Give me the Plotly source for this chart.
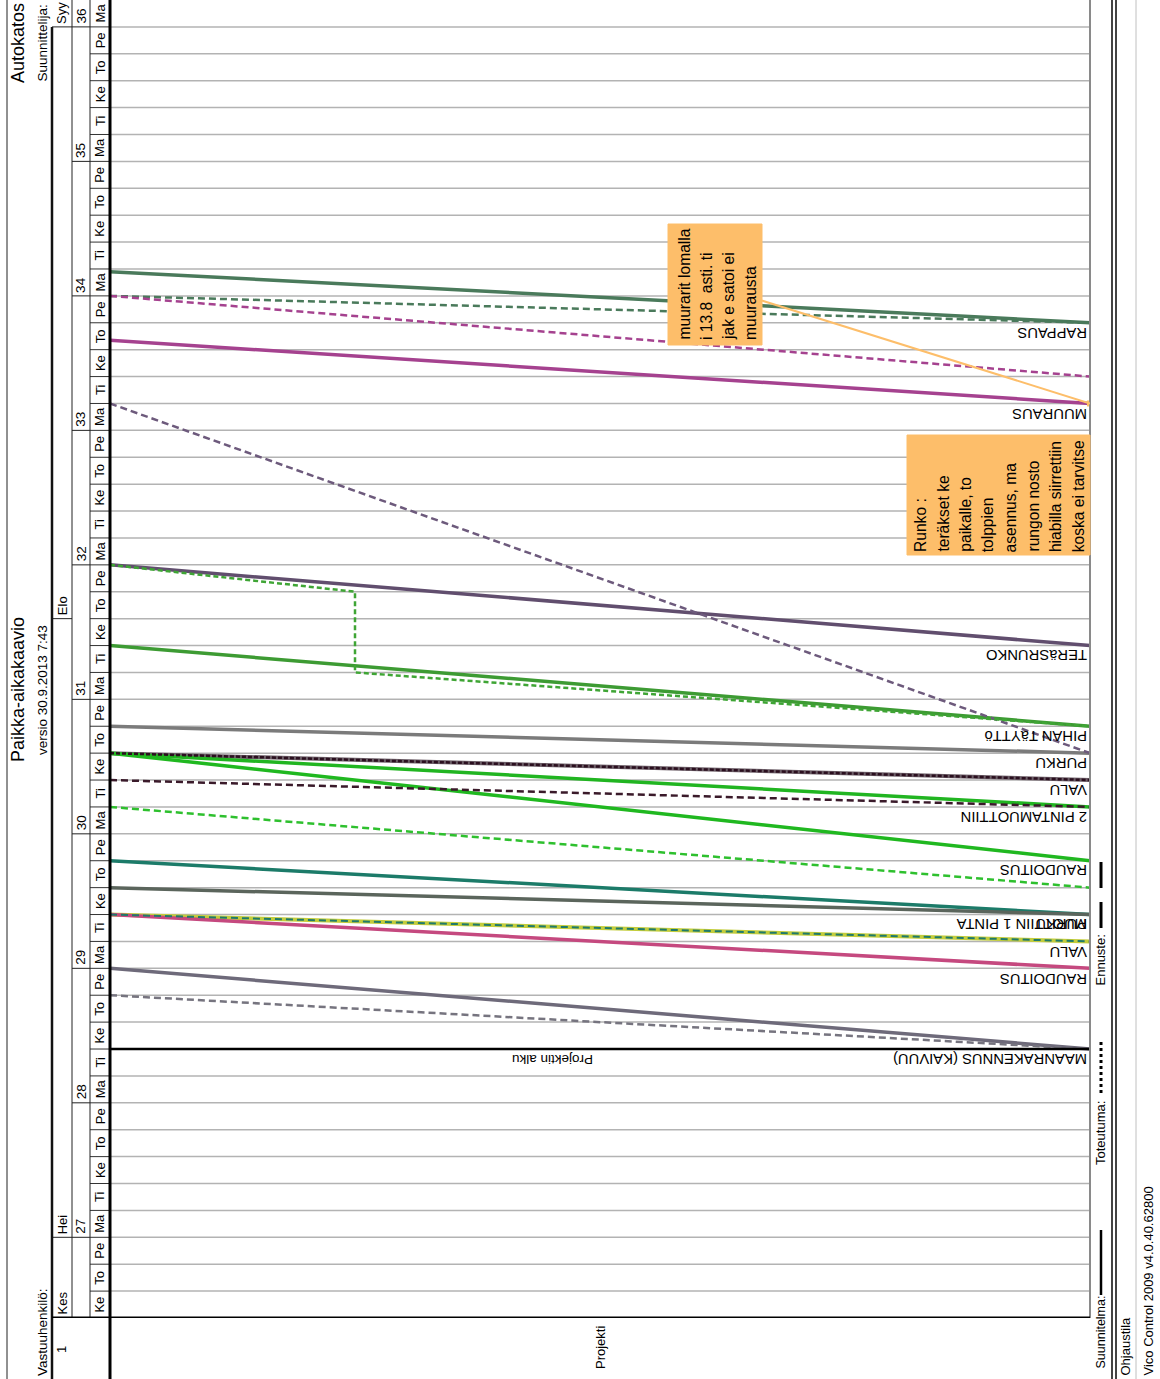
import plotly.graph_objects as go

W, H = 1160, 1379
FONT = "Liberation Sans, Arial, sans-serif"

# ---------------- data ----------------
day_labels = [
    "Ke", "To", "Pe",
    "Ma", "Ti", "Ke", "To", "Pe",   # 27
    "Ma", "Ti", "Ke", "To", "Pe",   # 28
    "Ma", "Ti", "Ke", "To", "Pe",   # 29
    "Ma", "Ti", "Ke", "To", "Pe",   # 30
    "Ma", "Ti", "Ke", "To", "Pe",   # 31
    "Ma", "Ti", "Ke", "To", "Pe",   # 32
    "Ma", "Ti", "Ke", "To", "Pe",   # 33
    "Ma", "Ti", "Ke", "To", "Pe",   # 34
    "Ma", "Ti", "Ke", "To", "Pe",   # 35
    "Ma",                           # 36
]
week_labels = ["27", "28", "29", "30", "31", "32", "33", "34", "35", "36"]
week_start = [3, 8, 13, 18, 23, 28, 33, 38, 43, 48]
month_labels = ["Kes", "Hei", "Elo", "Syy"]
month_start = [0, 3, 26, 48]

# planned lines (Suunnitelma): working-day value at location start (left) and end (right)
plan_tasks = ["RAPPAUS", "MUURAUS", "TERäSRUNKO", "PIHAN TäYTTö", "PURKU", "VALU",
              "2 PINTAMUOTTIIN", "RAUDOITUS", "MUOTTIIN 1 PINTA", "PURKU", "VALU",
              "RAUDOITUS", "MAANRAKENNUS (KAIVUU)"]
plan_left = [38.9, 36.35, 28, 25, 22, 21, 21, 21, 17, 16, 15, 15, 13]
plan_right = [37, 34, 25, 22, 21, 20, 19, 17, 15, 15, 14, 13, 10]
plan_colors = ["#4a7a5b", "#a5428f", "#614e6e", "#3d9b33", "#7b7b7b", "#6b5d66",
               "#21b521", "#20b820", "#1c7b69", "#5b655c", "#c3cd3c", "#c5497f", "#6e6a7a"]

# actual lines (Toteutuma)
actual_x = [[0, 1], [0, 1], [0, 1], [0, 0.25, 0.25, 1], [0, 1], [0, 1], [0, 1], [0, 1], [0, 1]]
actual_days = [[38, 37], [38, 35], [34, 21], [28, 27, 24, 22], [21, 20], [20, 19],
               [19, 16], [15, 14], [12, 10]]
actual_colors = ["#4a7a5b", "#a5428f", "#6d5a7c", "#3fa535", "#2b0f1f", "#3a1a2a",
                 "#2ec02e", "#1f7a6b", "#76747f"]
actual_dash = ["7px,4px", "7px,4px", "7px,4px", "5px,3px", "4px,2px", "7px,4px",
               "7px,4px", "7px,4px", "7px,4px"]

project_start_day = 10
note1_lines = ["muurarit lomalla", "i 13.8  asti. ti", "jak e satoi ei", "muurausta"]
note2_lines = ["Runko :", "teräkset ke", "paikalle, to", "tolppien", "asennus, ma",
               "rungon nosto", "hiabilla siirrettiin", "koska ei tarvitse"]

# ---------------- helpers ----------------
def xp(px):
    return px / W


def yp(py):
    return 1 - py / H


n_rows = len(day_labels)
fig = go.Figure()

for i in range(len(plan_tasks)):
    fig.add_trace(go.Scatter(x=[0, 1], y=[plan_left[i], plan_right[i]], mode="lines",
                             line=dict(color=plan_colors[i], width=4 if i in (5, 10) else 3.5),
                             hoverinfo="skip", showlegend=False))
for i in range(len(actual_x)):
    fig.add_trace(go.Scatter(x=actual_x[i], y=actual_days[i], mode="lines",
                             line=dict(color=actual_colors[i], width=2.5 if i != 7 else 2,
                                       dash=actual_dash[i]),
                             hoverinfo="skip", showlegend=False))
# project start line
fig.add_trace(go.Scatter(x=[0, 1], y=[project_start_day, project_start_day], mode="lines",
                         line=dict(color="black", width=2.5), hoverinfo="skip", showlegend=False))

shapes = []
anns = []

# grid lines
for k in range(1, n_rows):
    shapes.append(dict(type="line", xref="paper", yref="y", x0=xp(110), x1=xp(1090), y0=k, y1=k,
                       line=dict(color="#b3b3b3", width=1.5), layer="below"))
    shapes.append(dict(type="line", xref="paper", yref="y", x0=xp(90), x1=xp(110), y0=k, y1=k,
                       line=dict(color="#333333", width=1)))
for k in week_start:
    shapes.append(dict(type="line", xref="paper", yref="y", x0=xp(72), x1=xp(90), y0=k, y1=k,
                       line=dict(color="#222222", width=1)))
for k in month_start[1:]:
    shapes.append(dict(type="line", xref="paper", yref="y", x0=xp(52), x1=xp(72), y0=k, y1=k,
                       line=dict(color="#222222", width=1)))


def vline(x, y0, y1, color="black", width=1, dash=None):
    ln = dict(color=color, width=width)
    if dash:
        ln["dash"] = dash
    shapes.append(dict(type="line", xref="paper", yref="paper", x0=xp(x), x1=xp(x),
                       y0=yp(y0), y1=yp(y1), line=ln))


vline(7, 0, H, "#222", 1)
shapes.append(dict(type="line", xref="paper", yref="y", x0=xp(52), x1=xp(52), y0=month_start[-1],
                   y1=0, line=dict(color="#111", width=2.5)))
vline(52, 1318, H, "#111", 2.5)
vline(72, 0, 1318, "#222", 1)
vline(90, 0, 1318, "#222", 1)
vline(110, 0, H, "#000", 3)
vline(1090, 0, 1318, "#8a8a8a", 2)
vline(1112, 0, H, "#444", 2)
vline(1116, 0, H, "#444", 2)
vline(1136, 0, H, "#c0c0c0", 1)
shapes.append(dict(type="line", xref="paper", yref="y", x0=xp(52), x1=xp(1090), y0=0, y1=0,
                   line=dict(color="#000", width=3)))

# legend lines
vline(1101, 1295, 1230, "#000", 2.5)
vline(1101, 1093, 1040, "#000", 3, "dot")
vline(1101, 928, 862, "#000", 3, "26px,14px")

# note boxes
shapes.append(dict(type="rect", xref="paper", yref="paper", x0=xp(668), x1=xp(762), y0=yp(345),
                   y1=yp(224), fillcolor="#fdbe6a", line=dict(color="#fdbe6a", width=1)))
shapes.append(dict(type="rect", xref="paper", yref="paper", x0=xp(907), x1=xp(1090), y0=yp(555),
                   y1=yp(435), fillcolor="#fdbe6a", line=dict(color="#fdbe6a", width=1)))
# connector from note 1 to end of MUURAUS
shapes.append(dict(type="line", xref="x", yref="y", x0=(760 - 110) / 980, y0=(1318 - 300) / (1318 / n_rows),
                   x1=1, y1=plan_right[1], line=dict(color="#fdbe6a", width=2)))
fig.add_trace(go.Scatter(x=[1], y=[plan_right[1]], mode="markers",
                         marker=dict(symbol="square", size=6, color="#fdbe6a"),
                         hoverinfo="skip", showlegend=False))


def txt(text, x, y, size=13, angle=-90, xanchor="center", yanchor="middle", xref="paper",
        yref="paper", color="black", xshift=0, yshift=0):
    anns.append(dict(text=text, x=x, y=y, xref=xref, yref=yref, textangle=angle, showarrow=False,
                     xanchor=xanchor, yanchor=yanchor, font=dict(family=FONT, size=size, color=color),
                     xshift=xshift, yshift=yshift, borderpad=0))


# day labels
for k, d in enumerate(day_labels):
    txt(d, xp(100), k + 0.5, size=13, yref="y")
for k, w in zip(week_start, week_labels):
    txt(w, xp(81), k, size=13.5, yref="y", yanchor="bottom", yshift=2)
for k, m in zip(month_start, month_labels):
    txt(m, xp(62), k, size=13, yref="y", yanchor="bottom", yshift=2)

# task labels (upside down at right end)
for i, t in enumerate(plan_tasks):
    txt(t, 1, plan_right[i], size=14.8, angle=180, xanchor="right", yanchor="top", xref="x", yref="y",
        xshift=-2, yshift=-1)
txt("Projektin alku", (553 - 110) / 980, project_start_day, size=13.5, angle=180, xanchor="center",
    yanchor="top", xref="x", yref="y", yshift=-2)

# header texts
txt("Autokatos", xp(18), yp(2), size=18, yanchor="top")
txt("Suunnittelija:", xp(42), yp(4), size=13.5, yanchor="top")
txt("Paikka-aikakaavio", xp(18), yp(690), size=18)
txt("versio 30.9.2013 7:43", xp(42), yp(690), size=13.5)
txt("Vastuuhenkilö:", xp(42), yp(1377), size=13.5, yanchor="bottom")
txt("1", xp(61), yp(1350), size=13)
txt("Projekti", xp(600), yp(1348), size=13)

# legend texts
txt("Suunnitelma:", xp(1100), yp(1370), size=12.5, yanchor="bottom")
txt("Toteutuma:", xp(1100), yp(1166), size=13, yanchor="bottom")
txt("Ennuste:", xp(1100), yp(987), size=13, yanchor="bottom")
txt("Ohjaustila", xp(1125), yp(1377), size=13, yanchor="bottom")
txt("Vico Control 2009 v4.0.40.62800", xp(1148), yp(1377), size=13, yanchor="bottom")

# note texts
for j, line in enumerate(note1_lines):
    txt(line, xp(684 + 22 * j), yp(341), size=15.6, yanchor="bottom")
for j, line in enumerate(note2_lines):
    txt(line, xp(920 + 22.6 * j), yp(553), size=15.6, yanchor="bottom")

fig.update_layout(
    width=W, height=H, autosize=False,
    margin=dict(l=0, r=0, t=0, b=0),
    paper_bgcolor="white", plot_bgcolor="white",
    xaxis=dict(domain=[xp(110), xp(1090)], range=[0, 1], visible=False, fixedrange=True),
    yaxis=dict(domain=[yp(1318), 1], range=[0, n_rows], visible=False, fixedrange=True),
    shapes=shapes, annotations=anns,
)

fig.write_html("out.html", config={"displayModeBar": False},
               post_script="document.body.style.margin='0';document.body.style.overflow='hidden';")
